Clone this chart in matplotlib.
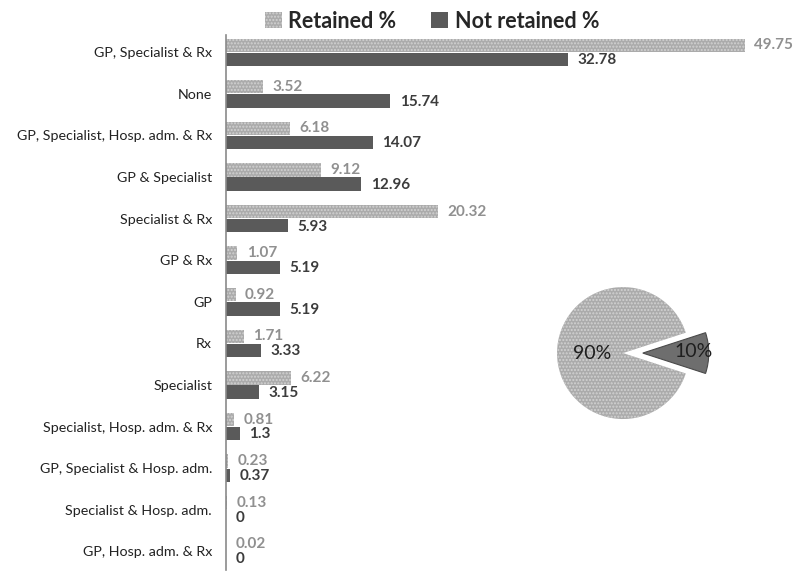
# horizontal bar chart of retained / not retained shares with inset pie
from matplotlib import pyplot as plt
from matplotlib.patches import Patch
import numpy as np

plt.rcParams['font.family'] = ['Lato', 'DejaVu Sans']
plt.rcParams['hatch.linewidth'] = 1.0

categories = ['GP, Specialist & Rx', 'None', 'GP, Specialist, Hosp. adm. & Rx',
              'GP & Specialist', 'Specialist & Rx', 'GP & Rx', 'GP', 'Rx',
              'Specialist', 'Specialist, Hosp. adm. & Rx',
              'GP, Specialist & Hosp. adm.', 'Specialist & Hosp. adm.',
              'GP, Hosp. adm. & Rx']
retained = [49.75, 3.52, 6.18, 9.12, 20.32, 1.07, 0.92, 1.71, 6.22, 0.81, 0.23, 0.13, 0.02]
not_retained = [32.78, 15.74, 14.07, 12.96, 5.93, 5.19, 5.19, 3.33, 3.15, 1.3, 0.37, 0, 0]

pie_values = [90, 10]
pie_labels = ['90%', '10%']

light = '#ababab'
light_hatch = '#d2d2d2'
dark = '#5a5a5a'

fig = plt.figure(figsize=(8, 5.77), dpi=100)
ax = fig.add_axes([0.2825, 0.012, 0.71, 0.927])

y = np.arange(len(categories))
h = 0.32
ax.barh(y - 0.17, retained, height=h, color=light, edgecolor=light_hatch,
        hatch='.....', linewidth=0)
ax.barh(y + 0.17, not_retained, height=h, color=dark, linewidth=0)

for i in range(len(categories)):
    ax.text(retained[i] + 0.9, y[i] - 0.17, str(retained[i]), va='center', ha='left',
            fontsize=11, fontweight='bold', color='#909090')
    nr = str(not_retained[i]) if not_retained[i] else '0'
    ax.text(not_retained[i] + 0.9, y[i] + 0.19, nr, va='center', ha='left',
            fontsize=11, fontweight='bold', color='#3c3c3c')

ax.set_yticks(y)
ax.set_yticklabels(categories, fontsize=10.3, color='#222222')
ax.tick_params(axis='y', length=0, pad=10)
ax.set_xticks([])
ax.set_xlim(0, 54.45)
ax.set_ylim(12.45, -0.41)
for s in ['top', 'right', 'bottom']:
    ax.spines[s].set_visible(False)
ax.spines['left'].set_color('#8a8a8a')
ax.spines['left'].set_linewidth(1.2)

# legend
handles = [Patch(facecolor=light, edgecolor=light_hatch, hatch='.....', linewidth=0),
           Patch(facecolor=dark, linewidth=0)]
fig.legend(handles, ['Retained %', 'Not retained %'], loc='upper center',
           bbox_to_anchor=(0.54, 1.015), ncol=2, frameon=False,
           prop={'size': 15.5, 'weight': 'bold'}, handlelength=0.8, handleheight=0.8,
           handletextpad=0.3, columnspacing=1.6, labelcolor='#262626')

# inset pie
pax = fig.add_axes([0.655, 0.2166, 0.2475, 0.343])
wedges, texts = pax.pie(pie_values, startangle=18, counterclock=True,
                        colors=[light, '#6e6e6e'], explode=[0, 0.3],
                        radius=1.0, wedgeprops={'linewidth': 0})
wedges[0].set_hatch('.....')
wedges[0].set_edgecolor(light_hatch)
wedges[1].set_edgecolor('#4a4a4a')
wedges[1].set_linewidth(0.8)
pax.text(-0.47, 0.0, pie_labels[0], ha='center', va='center', fontsize=14, color='#1e1e1e')
pax.text(1.07, 0.02, pie_labels[1], ha='center', va='center', fontsize=14, color='#1e1e1e')
pax.set_xlim(-1.5, 1.5)
pax.set_ylim(-1.5, 1.5)
pax.set_aspect('equal')

plt.savefig('out.png', dpi=100)
plt.close()
